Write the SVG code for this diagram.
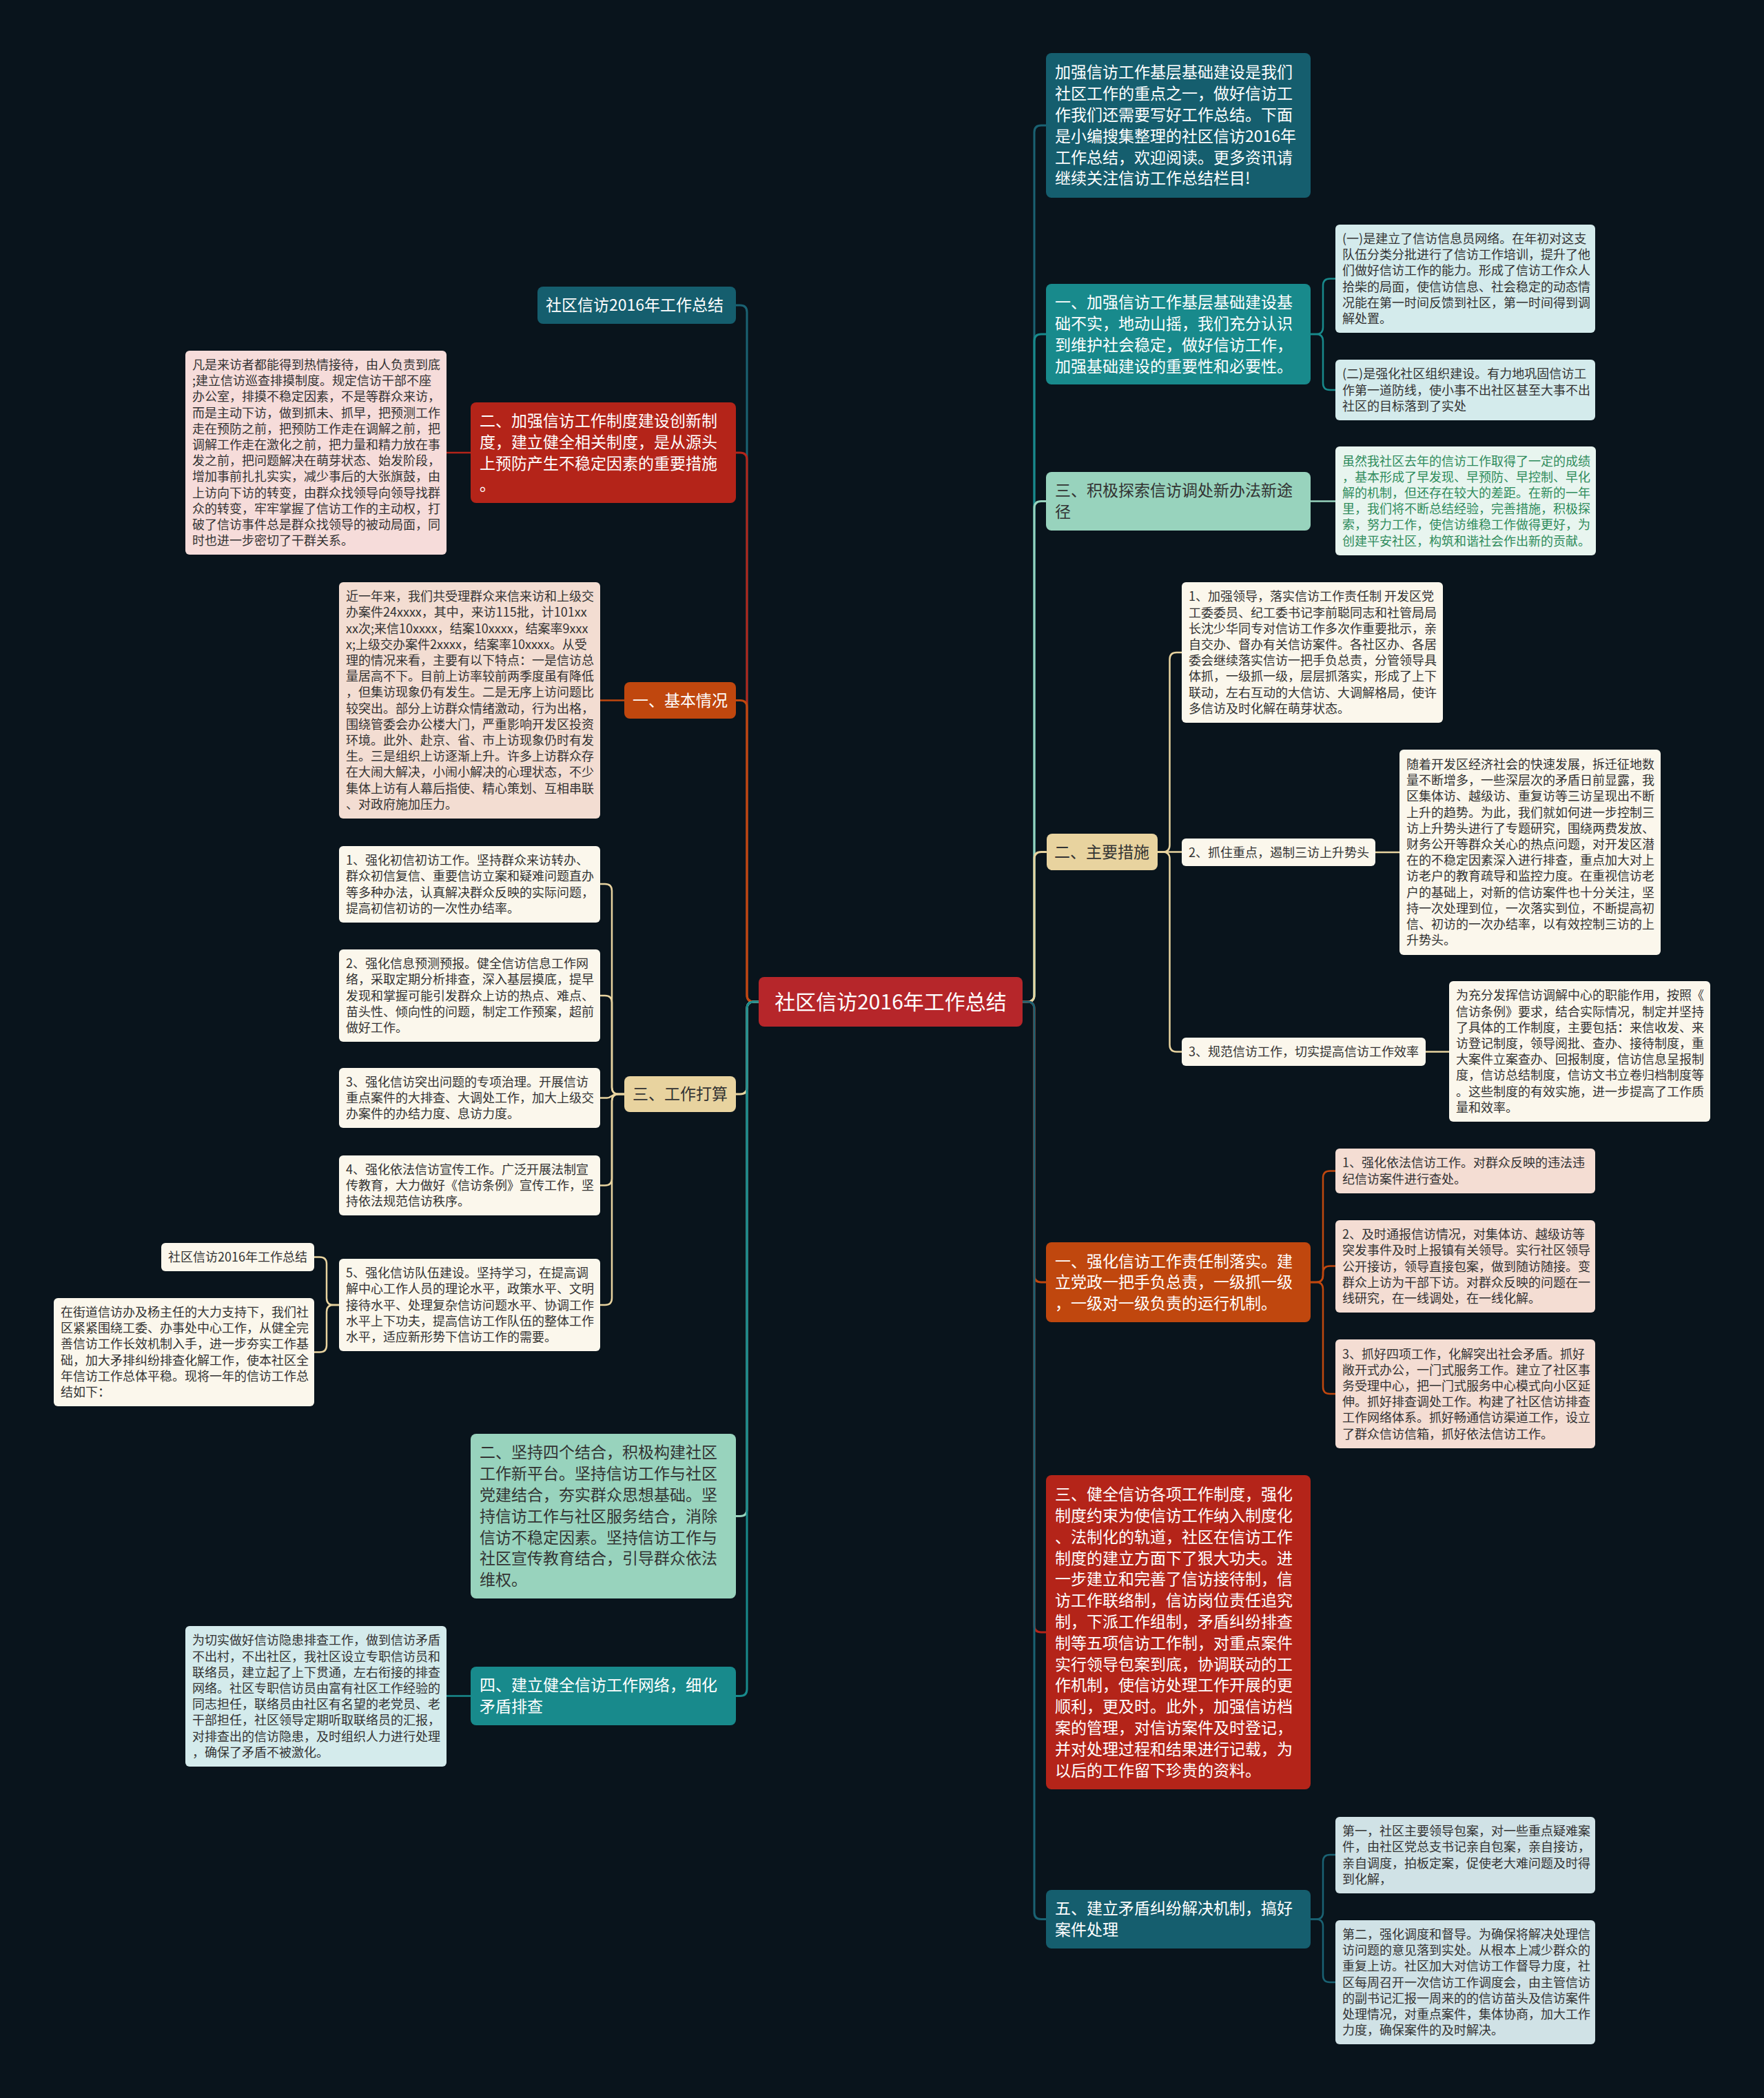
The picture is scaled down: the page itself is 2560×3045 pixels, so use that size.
<svg xmlns="http://www.w3.org/2000/svg" width="2560" height="3045" viewBox="0 0 2560 3045">
<style>
text{font-family:"Noto Sans CJK SC","Noto Sans",sans-serif}
.m{font-size:23px}
.s{font-size:18px}
.c{font-size:30px;fill:#fff}
.w{fill:#ffffff}
.d{fill:#333333}
.g{fill:#2f8c5c}
.ln{fill:none;stroke-width:3;stroke-linecap:round}
.sl{fill:none;stroke-width:2.5;stroke-linecap:round}
</style>
<rect x="0" y="0" width="2560" height="3045" fill="#09141c"/>
<g id="connectors">
<path class="ln" stroke="#1a6273" d="M1101 1454 H1094 Q1084 1454 1084 1444 V453 Q1084 443 1074 443 H1068"/>
<path class="ln" stroke="#b42419" d="M1101 1454 H1094 Q1084 1454 1084 1444 V667 Q1084 657 1074 657 H1068"/>
<path class="ln" stroke="#c0470e" d="M1101 1454 H1094 Q1084 1454 1084 1444 V1026.5 Q1084 1016.5 1074 1016.5 H1068"/>
<path class="ln" stroke="#e8d39f" d="M1101 1454 H1094 Q1084 1454 1084 1464 V1578 Q1084 1588 1074 1588 H1068"/>
<path class="ln" stroke="#98d3bd" d="M1101 1454 H1094 Q1084 1454 1084 1464 V2190.5 Q1084 2200.5 1074 2200.5 H1068"/>
<path class="ln" stroke="#188a8c" d="M1101 1454 H1094 Q1084 1454 1084 1464 V2451.5 Q1084 2461.5 1074 2461.5 H1068"/>
<path class="ln" stroke="#1a6273" d="M1484 1454 H1491 Q1501 1454 1501 1444 V192 Q1501 182 1511 182 H1518"/>
<path class="ln" stroke="#188a8c" d="M1484 1454 H1491 Q1501 1454 1501 1444 V495 Q1501 485 1511 485 H1518"/>
<path class="ln" stroke="#98d3bd" d="M1484 1454 H1491 Q1501 1454 1501 1444 V737.5 Q1501 727.5 1511 727.5 H1518"/>
<path class="ln" stroke="#e8d39f" d="M1484 1454 H1491 Q1501 1454 1501 1444 V1246.5 Q1501 1236.5 1511 1236.5 H1518"/>
<path class="ln" stroke="#c0470e" d="M1484 1454 H1491 Q1501 1454 1501 1464 V1851 Q1501 1861 1511 1861 H1518"/>
<path class="ln" stroke="#b42419" d="M1484 1454 H1491 Q1501 1454 1501 1464 V2359 Q1501 2369 1511 2369 H1518"/>
<path class="ln" stroke="#1a6273" d="M1484 1454 H1491 Q1501 1454 1501 1464 V2775.5 Q1501 2785.5 1511 2785.5 H1518"/>
<path class="sl" stroke="#188a8c" d="M1902 485 H1910 Q1920 485 1920 475 V414.5 Q1920 404.5 1930 404.5 H1938"/>
<path class="sl" stroke="#188a8c" d="M1902 485 H1910 Q1920 485 1920 495 V556 Q1920 566 1930 566 H1938"/>
<path class="sl" stroke="#98d3bd" d="M1902 727.5 H1938"/>
<path class="sl" stroke="#e8d39f" d="M1680 1236.5 H1687.5 Q1697.5 1236.5 1697.5 1226.5 V957 Q1697.5 947 1707.5 947 H1715"/>
<path class="sl" stroke="#e8d39f" d="M1680 1236.5 H1715"/>
<path class="sl" stroke="#e8d39f" d="M1680 1236.5 H1687.5 Q1697.5 1236.5 1697.5 1246.5 V1516.5 Q1697.5 1526.5 1707.5 1526.5 H1715"/>
<path class="sl" stroke="#e8d39f" d="M1996 1237 H2031"/>
<path class="sl" stroke="#e8d39f" d="M2069 1526.5 H2103"/>
<path class="sl" stroke="#c0470e" d="M1902 1861 H1910 Q1920 1861 1920 1851 V1709.5 Q1920 1699.5 1930 1699.5 H1938"/>
<path class="sl" stroke="#c0470e" d="M1902 1861 H1910 Q1920 1861 1920 1851 V1847.5 Q1920 1837.5 1930 1837.5 H1938"/>
<path class="sl" stroke="#c0470e" d="M1902 1861 H1910 Q1920 1861 1920 1871 V2013 Q1920 2023 1930 2023 H1938"/>
<path class="sl" stroke="#1a6273" d="M1902 2785.5 H1910 Q1920 2785.5 1920 2775.5 V2702 Q1920 2692 1930 2692 H1938"/>
<path class="sl" stroke="#1a6273" d="M1902 2785.5 H1910 Q1920 2785.5 1920 2795.5 V2867 Q1920 2877 1930 2877 H1938"/>
<path class="sl" stroke="#b42419" d="M683 657 H648"/>
<path class="sl" stroke="#c0470e" d="M906 1016.5 H871"/>
<path class="sl" stroke="#e8d39f" d="M906 1588 H898 Q888 1588 888 1578 V1293 Q888 1283 878 1283 H871"/>
<path class="sl" stroke="#e8d39f" d="M906 1588 H898 Q888 1588 888 1578 V1455 Q888 1445 878 1445 H871"/>
<path class="sl" stroke="#e8d39f" d="M906 1588 H894 C889 1588 887 1593.5 881 1593.5 H871"/>
<path class="sl" stroke="#e8d39f" d="M906 1588 H898 Q888 1588 888 1598 V1710.5 Q888 1720.5 878 1720.5 H871"/>
<path class="sl" stroke="#e8d39f" d="M906 1588 H898 Q888 1588 888 1598 V1884 Q888 1894 878 1894 H871"/>
<path class="sl" stroke="#e8d39f" d="M492 1894 H484 Q474 1894 474 1884 V1834.5 Q474 1824.5 464 1824.5 H456"/>
<path class="sl" stroke="#e8d39f" d="M492 1894 H484 Q474 1894 474 1904 V1952.5 Q474 1962.5 464 1962.5 H456"/>
<path class="sl" stroke="#188a8c" d="M683 2461.5 H648"/>
</g>
<g id="center">
<rect x="1101" y="1418" width="383" height="72" rx="8" fill="#b6262a"/>
<text class="c" x="1292.5" y="1464.8" text-anchor="middle">社区信访2016年工作总结</text>
</g>
<g id="r1">
<rect x="1518" y="77" width="384" height="210" rx="8" fill="#155e6e"/>
<text class="m w" x="1531" y="113.3"><tspan x="1531" dy="0">加强信访工作基层基础建设是我们</tspan><tspan x="1531" dy="30.8">社区工作的重点之一，做好信访工</tspan><tspan x="1531" dy="30.8">作我们还需要写好工作总结。下面</tspan><tspan x="1531" dy="30.8">是小编搜集整理的社区信访2016年</tspan><tspan x="1531" dy="30.8">工作总结，欢迎阅读。更多资讯请</tspan><tspan x="1531" dy="30.8">继续关注信访工作总结栏目!</tspan></text>
</g>
<g id="r2">
<rect x="1518" y="412" width="384" height="146" rx="8" fill="#188a8c"/>
<text class="m w" x="1531" y="447.1"><tspan x="1531" dy="0">一、加强信访工作基层基础建设基</tspan><tspan x="1531" dy="30.8">础不实，地动山摇，我们充分认识</tspan><tspan x="1531" dy="30.8">到维护社会稳定，做好信访工作，</tspan><tspan x="1531" dy="30.8">加强基础建设的重要性和必要性。</tspan></text>
</g>
<g id="r2c1">
<rect x="1938" y="326" width="377" height="157" rx="6" fill="#d4ebec"/>
<text class="s d" x="1948" y="353"><tspan x="1948" dy="0">(一)是建立了信访信息员网络。在年初对这支</tspan><tspan x="1948" dy="23.2">队伍分类分批进行了信访工作培训，提升了他</tspan><tspan x="1948" dy="23.2">们做好信访工作的能力。形成了信访工作众人</tspan><tspan x="1948" dy="23.2">拾柴的局面，使信访信息、社会稳定的动态情</tspan><tspan x="1948" dy="23.2">况能在第一时间反馈到社区，第一时间得到调</tspan><tspan x="1948" dy="23.2">解处置。</tspan></text>
</g>
<g id="r2c2">
<rect x="1938" y="522" width="377" height="88" rx="6" fill="#d4ebec"/>
<text class="s d" x="1948" y="549.3"><tspan x="1948" dy="0">(二)是强化社区组织建设。有力地巩固信访工</tspan><tspan x="1948" dy="23.2">作第一道防线，使小事不出社区甚至大事不出</tspan><tspan x="1948" dy="23.2">社区的目标落到了实处</tspan></text>
</g>
<g id="r3">
<rect x="1518" y="685" width="384" height="85" rx="8" fill="#98d3bd"/>
<text class="m d" x="1531" y="720.4"><tspan x="1531" dy="0">三、积极探索信访调处新办法新途</tspan><tspan x="1531" dy="30.8">径</tspan></text>
</g>
<g id="r3c1">
<rect x="1938" y="648" width="378" height="158" rx="6" fill="#e8f5ef"/>
<text class="s g" x="1948" y="675.5"><tspan x="1948" dy="0">虽然我社区去年的信访工作取得了一定的成绩</tspan><tspan x="1948" dy="23.2">，基本形成了早发现、早预防、早控制、早化</tspan><tspan x="1948" dy="23.2">解的机制，但还存在较大的差距。在新的一年</tspan><tspan x="1948" dy="23.2">里，我们将不断总结经验，完善措施，积极探</tspan><tspan x="1948" dy="23.2">索，努力工作，使信访维稳工作做得更好，为</tspan><tspan x="1948" dy="23.2">创建平安社区，构筑和谐社会作出新的贡献。</tspan></text>
</g>
<g id="r4">
<rect x="1519" y="1210" width="161" height="53" rx="8" fill="#e8d39f"/>
<text class="m d" x="1530" y="1244.8">二、主要措施</text>
</g>
<g id="r4c1">
<rect x="1715" y="845" width="379" height="204" rx="6" fill="#fbf7ec"/>
<text class="s d" x="1725" y="872.3"><tspan x="1725" dy="0">1、加强领导，落实信访工作责任制 开发区党</tspan><tspan x="1725" dy="23.2">工委委员、纪工委书记李前聪同志和社管局局</tspan><tspan x="1725" dy="23.2">长沈少华同专对信访工作多次作重要批示，亲</tspan><tspan x="1725" dy="23.2">自交办、督办有关信访案件。各社区办、各居</tspan><tspan x="1725" dy="23.2">委会继续落实信访一把手负总责，分管领导具</tspan><tspan x="1725" dy="23.2">体抓，一级抓一级，层层抓落实，形成了上下</tspan><tspan x="1725" dy="23.2">联动，左右互动的大信访、大调解格局，使许</tspan><tspan x="1725" dy="23.2">多信访及时化解在萌芽状态。</tspan></text>
</g>
<g id="r4c2">
<rect x="1715" y="1217" width="281" height="40" rx="6" fill="#fbf7ec"/>
<text class="s d" x="1725" y="1243.5">2、抓住重点，遏制三访上升势头</text>
</g>
<g id="r4c2c1">
<rect x="2031" y="1088" width="379" height="298" rx="6" fill="#fbf7ec"/>
<text class="s d" x="2041" y="1115.9"><tspan x="2041" dy="0">随着开发区经济社会的快速发展，拆迁征地数</tspan><tspan x="2041" dy="23.2">量不断增多，一些深层次的矛盾日前显露，我</tspan><tspan x="2041" dy="23.2">区集体访、越级访、重复访等三访呈现出不断</tspan><tspan x="2041" dy="23.2">上升的趋势。为此，我们就如何进一步控制三</tspan><tspan x="2041" dy="23.2">访上升势头进行了专题研究，围绕两费发放、</tspan><tspan x="2041" dy="23.2">财务公开等群众关心的热点问题，对开发区潜</tspan><tspan x="2041" dy="23.2">在的不稳定因素深入进行排查，重点加大对上</tspan><tspan x="2041" dy="23.2">访老户的教育疏导和监控力度。在重视信访老</tspan><tspan x="2041" dy="23.2">户的基础上，对新的信访案件也十分关注，坚</tspan><tspan x="2041" dy="23.2">持一次处理到位，一次落实到位，不断提高初</tspan><tspan x="2041" dy="23.2">信、初访的一次办结率，以有效控制三访的上</tspan><tspan x="2041" dy="23.2">升势头。</tspan></text>
</g>
<g id="r4c3">
<rect x="1715" y="1506" width="354" height="41" rx="6" fill="#fbf7ec"/>
<text class="s d" x="1725" y="1533">3、规范信访工作，切实提高信访工作效率</text>
</g>
<g id="r4c3c1">
<rect x="2103" y="1424" width="379" height="204" rx="6" fill="#fbf7ec"/>
<text class="s d" x="2113" y="1451.3"><tspan x="2113" dy="0">为充分发挥信访调解中心的职能作用，按照《</tspan><tspan x="2113" dy="23.2">信访条例》要求，结合实际情况，制定并坚持</tspan><tspan x="2113" dy="23.2">了具体的工作制度，主要包括：来信收发、来</tspan><tspan x="2113" dy="23.2">访登记制度，领导阅批、查办、接待制度，重</tspan><tspan x="2113" dy="23.2">大案件立案查办、回报制度，信访信息呈报制</tspan><tspan x="2113" dy="23.2">度，信访总结制度，信访文书立卷归档制度等</tspan><tspan x="2113" dy="23.2">。这些制度的有效实施，进一步提高了工作质</tspan><tspan x="2113" dy="23.2">量和效率。</tspan></text>
</g>
<g id="r5">
<rect x="1518" y="1803" width="384" height="116" rx="8" fill="#c0470e"/>
<text class="m w" x="1531" y="1838.5"><tspan x="1531" dy="0">一、强化信访工作责任制落实。建</tspan><tspan x="1531" dy="30.8">立党政一把手负总责，一级抓一级</tspan><tspan x="1531" dy="30.8">，一级对一级负责的运行机制。</tspan></text>
</g>
<g id="r5c1">
<rect x="1938" y="1667" width="377" height="65" rx="6" fill="#f4ddd3"/>
<text class="s d" x="1948" y="1694.4"><tspan x="1948" dy="0">1、强化依法信访工作。对群众反映的违法违</tspan><tspan x="1948" dy="23.2">纪信访案件进行查处。</tspan></text>
</g>
<g id="r5c2">
<rect x="1938" y="1771" width="377" height="134" rx="6" fill="#f4ddd3"/>
<text class="s d" x="1948" y="1798.1"><tspan x="1948" dy="0">2、及时通报信访情况，对集体访、越级访等</tspan><tspan x="1948" dy="23.2">突发事件及时上报镇有关领导。实行社区领导</tspan><tspan x="1948" dy="23.2">公开接访，领导直接包案，做到随访随接。变</tspan><tspan x="1948" dy="23.2">群众上访为干部下访。对群众反映的问题在一</tspan><tspan x="1948" dy="23.2">线研究，在一线调处，在一线化解。</tspan></text>
</g>
<g id="r5c3">
<rect x="1938" y="1944" width="377" height="158" rx="6" fill="#f4ddd3"/>
<text class="s d" x="1948" y="1971.5"><tspan x="1948" dy="0">3、抓好四项工作，化解突出社会矛盾。抓好</tspan><tspan x="1948" dy="23.2">敞开式办公，一门式服务工作。建立了社区事</tspan><tspan x="1948" dy="23.2">务受理中心，把一门式服务中心模式向小区延</tspan><tspan x="1948" dy="23.2">伸。抓好排查调处工作。构建了社区信访排查</tspan><tspan x="1948" dy="23.2">工作网络体系。抓好畅通信访渠道工作，设立</tspan><tspan x="1948" dy="23.2">了群众信访信箱，抓好依法信访工作。</tspan></text>
</g>
<g id="r6">
<rect x="1518" y="2141" width="384" height="456" rx="8" fill="#b42419"/>
<text class="m w" x="1531" y="2177.1"><tspan x="1531" dy="0">三、健全信访各项工作制度，强化</tspan><tspan x="1531" dy="30.8">制度约束为使信访工作纳入制度化</tspan><tspan x="1531" dy="30.8">、法制化的轨道，社区在信访工作</tspan><tspan x="1531" dy="30.8">制度的建立方面下了狠大功夫。进</tspan><tspan x="1531" dy="30.8">一步建立和完善了信访接待制，信</tspan><tspan x="1531" dy="30.8">访工作联络制，信访岗位责任追究</tspan><tspan x="1531" dy="30.8">制，下派工作组制，矛盾纠纷排查</tspan><tspan x="1531" dy="30.8">制等五项信访工作制，对重点案件</tspan><tspan x="1531" dy="30.8">实行领导包案到底，协调联动的工</tspan><tspan x="1531" dy="30.8">作机制，使信访处理工作开展的更</tspan><tspan x="1531" dy="30.8">顺利，更及时。此外，加强信访档</tspan><tspan x="1531" dy="30.8">案的管理，对信访案件及时登记，</tspan><tspan x="1531" dy="30.8">并对处理过程和结果进行记载，为</tspan><tspan x="1531" dy="30.8">以后的工作留下珍贵的资料。</tspan></text>
</g>
<g id="r7">
<rect x="1518" y="2743" width="384" height="85" rx="8" fill="#155e6e"/>
<text class="m w" x="1531" y="2778.4"><tspan x="1531" dy="0">五、建立矛盾纠纷解决机制，搞好</tspan><tspan x="1531" dy="30.8">案件处理</tspan></text>
</g>
<g id="r7c1">
<rect x="1938" y="2637" width="377" height="111" rx="6" fill="#d0e2e6"/>
<text class="s d" x="1948" y="2664.2"><tspan x="1948" dy="0">第一，社区主要领导包案，对一些重点疑难案</tspan><tspan x="1948" dy="23.2">件，由社区党总支书记亲自包案，亲自接访，</tspan><tspan x="1948" dy="23.2">亲自调度，拍板定案，促使老大难问题及时得</tspan><tspan x="1948" dy="23.2">到化解，</tspan></text>
</g>
<g id="r7c2">
<rect x="1938" y="2787" width="377" height="180" rx="6" fill="#d0e2e6"/>
<text class="s d" x="1948" y="2813.9"><tspan x="1948" dy="0">第二，强化调度和督导。为确保将解决处理信</tspan><tspan x="1948" dy="23.2">访问题的意见落到实处。从根本上减少群众的</tspan><tspan x="1948" dy="23.2">重复上访。社区加大对信访工作督导力度，社</tspan><tspan x="1948" dy="23.2">区每周召开一次信访工作调度会，由主管信访</tspan><tspan x="1948" dy="23.2">的副书记汇报一周来的的信访苗头及信访案件</tspan><tspan x="1948" dy="23.2">处理情况，对重点案件，集体协商，加大工作</tspan><tspan x="1948" dy="23.2">力度，确保案件的及时解决。</tspan></text>
</g>
<g id="l1">
<rect x="780" y="416" width="288" height="54" rx="8" fill="#155e6e"/>
<text class="m w" x="792" y="451.3">社区信访2016年工作总结</text>
</g>
<g id="l2">
<rect x="683" y="584" width="385" height="146" rx="8" fill="#b42419"/>
<text class="m w" x="696" y="619.1"><tspan x="696" dy="0">二、加强信访工作制度建设创新制</tspan><tspan x="696" dy="30.8">度，建立健全相关制度，是从源头</tspan><tspan x="696" dy="30.8">上预防产生不稳定因素的重要措施</tspan><tspan x="696" dy="30.8">。</tspan></text>
</g>
<g id="l2c1">
<rect x="269" y="509" width="379" height="296" rx="6" fill="#f6dcda"/>
<text class="s d" x="279" y="535.9"><tspan x="279" dy="0">凡是来访者都能得到热情接待，由人负责到底</tspan><tspan x="279" dy="23.2">;建立信访巡查排摸制度。规定信访干部不座</tspan><tspan x="279" dy="23.2">办公室，排摸不稳定因素，不是等群众来访，</tspan><tspan x="279" dy="23.2">而是主动下访，做到抓未、抓早，把预测工作</tspan><tspan x="279" dy="23.2">走在预防之前，把预防工作走在调解之前，把</tspan><tspan x="279" dy="23.2">调解工作走在激化之前，把力量和精力放在事</tspan><tspan x="279" dy="23.2">发之前，把问题解决在萌芽状态、始发阶段，</tspan><tspan x="279" dy="23.2">增加事前扎扎实实，减少事后的大张旗鼓，由</tspan><tspan x="279" dy="23.2">上访向下访的转变，由群众找领导向领导找群</tspan><tspan x="279" dy="23.2">众的转变，牢牢掌握了信访工作的主动权，打</tspan><tspan x="279" dy="23.2">破了信访事件总是群众找领导的被动局面，同</tspan><tspan x="279" dy="23.2">时也进一步密切了干群关系。</tspan></text>
</g>
<g id="l3">
<rect x="906" y="990" width="162" height="53" rx="8" fill="#c0470e"/>
<text class="m w" x="918" y="1024.8">一、基本情况</text>
</g>
<g id="l3c1">
<rect x="492" y="845" width="379" height="343" rx="6" fill="#f3ddd2"/>
<text class="s d" x="502" y="872.2"><tspan x="502" dy="0">近一年来，我们共受理群众来信来访和上级交</tspan><tspan x="502" dy="23.2">办案件24xxxx，其中，来访115批，计101xx</tspan><tspan x="502" dy="23.2">xx次;来信10xxxx，结案10xxxx，结案率9xxx</tspan><tspan x="502" dy="23.2">x;上级交办案件2xxxx，结案率10xxxx。从受</tspan><tspan x="502" dy="23.2">理的情况来看，主要有以下特点：一是信访总</tspan><tspan x="502" dy="23.2">量居高不下。目前上访率较前两季度虽有降低</tspan><tspan x="502" dy="23.2">，但集访现象仍有发生。二是无序上访问题比</tspan><tspan x="502" dy="23.2">较突出。部分上访群众情绪激动，行为出格，</tspan><tspan x="502" dy="23.2">围绕管委会办公楼大门，严重影响开发区投资</tspan><tspan x="502" dy="23.2">环境。此外、赴京、省、市上访现象仍时有发</tspan><tspan x="502" dy="23.2">生。三是组织上访逐渐上升。许多上访群众存</tspan><tspan x="502" dy="23.2">在大闹大解决，小闹小解决的心理状态，不少</tspan><tspan x="502" dy="23.2">集体上访有人幕后指使、精心策划、互相串联</tspan><tspan x="502" dy="23.2">、对政府施加压力。</tspan></text>
</g>
<g id="l4">
<rect x="906" y="1562" width="162" height="52" rx="8" fill="#e8d39f"/>
<text class="m d" x="918" y="1596.3">三、工作打算</text>
</g>
<g id="l4c1">
<rect x="492" y="1228" width="379" height="111" rx="6" fill="#fbf7ec"/>
<text class="s d" x="502" y="1255.2"><tspan x="502" dy="0">1、强化初信初访工作。坚持群众来访转办、</tspan><tspan x="502" dy="23.2">群众初信复信、重要信访立案和疑难问题直办</tspan><tspan x="502" dy="23.2">等多种办法，认真解决群众反映的实际问题，</tspan><tspan x="502" dy="23.2">提高初信初访的一次性办结率。</tspan></text>
</g>
<g id="l4c2">
<rect x="492" y="1378" width="379" height="134" rx="6" fill="#fbf7ec"/>
<text class="s d" x="502" y="1405.1"><tspan x="502" dy="0">2、强化信息预测预报。健全信访信息工作网</tspan><tspan x="502" dy="23.2">络，采取定期分析排查，深入基层摸底，提早</tspan><tspan x="502" dy="23.2">发现和掌握可能引发群众上访的热点、难点、</tspan><tspan x="502" dy="23.2">苗头性、倾向性的问题，制定工作预案，超前</tspan><tspan x="502" dy="23.2">做好工作。</tspan></text>
</g>
<g id="l4c3">
<rect x="492" y="1550" width="379" height="87" rx="6" fill="#fbf7ec"/>
<text class="s d" x="502" y="1576.8"><tspan x="502" dy="0">3、强化信访突出问题的专项治理。开展信访</tspan><tspan x="502" dy="23.2">重点案件的大排查、大调处工作，加大上级交</tspan><tspan x="502" dy="23.2">办案件的办结力度、息访力度。</tspan></text>
</g>
<g id="l4c4">
<rect x="492" y="1677" width="379" height="87" rx="6" fill="#fbf7ec"/>
<text class="s d" x="502" y="1703.8"><tspan x="502" dy="0">4、强化依法信访宣传工作。广泛开展法制宣</tspan><tspan x="502" dy="23.2">传教育，大力做好《信访条例》宣传工作，坚</tspan><tspan x="502" dy="23.2">持依法规范信访秩序。</tspan></text>
</g>
<g id="l4c5">
<rect x="492" y="1827" width="379" height="134" rx="6" fill="#fbf7ec"/>
<text class="s d" x="502" y="1854.1"><tspan x="502" dy="0">5、强化信访队伍建设。坚持学习，在提高调</tspan><tspan x="502" dy="23.2">解中心工作人员的理论水平，政策水平、文明</tspan><tspan x="502" dy="23.2">接待水平、处理复杂信访问题水平、协调工作</tspan><tspan x="502" dy="23.2">水平上下功夫，提高信访工作队伍的整体工作</tspan><tspan x="502" dy="23.2">水平，适应新形势下信访工作的需要。</tspan></text>
</g>
<g id="l4c5c1">
<rect x="234" y="1804" width="222" height="41" rx="6" fill="#fbf7ec"/>
<text class="s d" x="244" y="1831">社区信访2016年工作总结</text>
</g>
<g id="l4c5c2">
<rect x="78" y="1884" width="378" height="157" rx="6" fill="#fbf7ec"/>
<text class="s d" x="88" y="1911"><tspan x="88" dy="0">在街道信访办及杨主任的大力支持下，我们社</tspan><tspan x="88" dy="23.2">区紧紧围绕工委、办事处中心工作，从健全完</tspan><tspan x="88" dy="23.2">善信访工作长效机制入手，进一步夯实工作基</tspan><tspan x="88" dy="23.2">础，加大矛排纠纷排查化解工作，使本社区全</tspan><tspan x="88" dy="23.2">年信访工作总体平稳。现将一年的信访工作总</tspan><tspan x="88" dy="23.2">结如下：</tspan></text>
</g>
<g id="l5">
<rect x="683" y="2081" width="385" height="239" rx="8" fill="#98d3bd"/>
<text class="m d" x="696" y="2116.4"><tspan x="696" dy="0">二、坚持四个结合，积极构建社区</tspan><tspan x="696" dy="30.8">工作新平台。坚持信访工作与社区</tspan><tspan x="696" dy="30.8">党建结合，夯实群众思想基础。坚</tspan><tspan x="696" dy="30.8">持信访工作与社区服务结合，消除</tspan><tspan x="696" dy="30.8">信访不稳定因素。坚持信访工作与</tspan><tspan x="696" dy="30.8">社区宣传教育结合，引导群众依法</tspan><tspan x="696" dy="30.8">维权。</tspan></text>
</g>
<g id="l6">
<rect x="683" y="2419" width="385" height="85" rx="8" fill="#188a8c"/>
<text class="m w" x="696" y="2454.4"><tspan x="696" dy="0">四、建立健全信访工作网络，细化</tspan><tspan x="696" dy="30.8">矛盾排查</tspan></text>
</g>
<g id="l6c1">
<rect x="269" y="2360" width="379" height="204" rx="6" fill="#d4ebec"/>
<text class="s d" x="279" y="2387.3"><tspan x="279" dy="0">为切实做好信访隐患排查工作，做到信访矛盾</tspan><tspan x="279" dy="23.2">不出村，不出社区，我社区设立专职信访员和</tspan><tspan x="279" dy="23.2">联络员，建立起了上下贯通，左右衔接的排查</tspan><tspan x="279" dy="23.2">网络。社区专职信访员由富有社区工作经验的</tspan><tspan x="279" dy="23.2">同志担任，联络员由社区有名望的老党员、老</tspan><tspan x="279" dy="23.2">干部担任，社区领导定期听取联络员的汇报，</tspan><tspan x="279" dy="23.2">对排查出的信访隐患，及时组织人力进行处理</tspan><tspan x="279" dy="23.2">，确保了矛盾不被激化。</tspan></text>
</g>
</svg>
